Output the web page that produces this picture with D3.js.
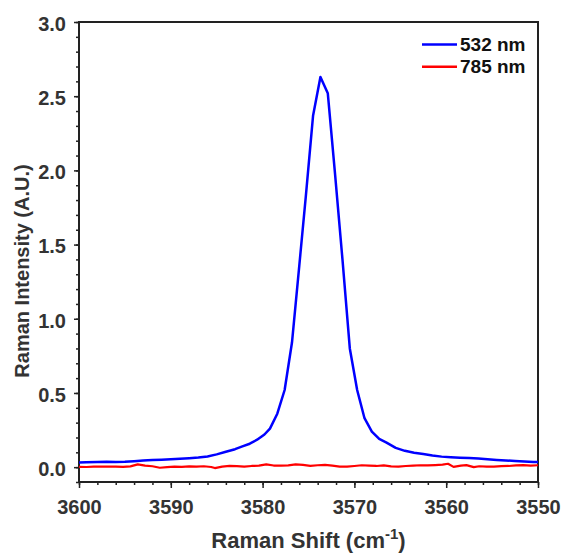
<!DOCTYPE html>
<html>
<head>
<meta charset="utf-8">
<script src="https://cdn.jsdelivr.net/npm/d3@7"></script>
<style>
  html, body { margin: 0; padding: 0; background: #fff; }
  svg { display: block; }
  text { font-family: "Liberation Sans", Arial, sans-serif; font-weight: bold; }
</style>
</head>
<body>
<svg id="chart" width="565" height="554"></svg>
<script>
// ---- data ----
const blueX = [3600, 3599.2, 3598, 3597, 3596, 3595, 3594, 3593, 3592, 3591, 3590, 3589, 3588, 3587, 3586, 3585, 3584, 3583, 3582.2, 3581.4, 3580.6, 3579.8, 3579.2, 3578.4, 3577.6, 3576.8, 3576.0, 3575.3, 3574.5, 3573.7, 3572.9, 3572.1, 3571.3, 3570.5, 3569.7, 3568.9, 3568.1, 3567.3, 3566.5, 3565.5, 3564.5, 3563.5, 3562.5, 3561.5, 3560.5, 3559.5, 3558.5, 3557.5, 3556.5, 3555.5, 3554.5, 3553.5, 3552.5, 3551.5, 3550.5, 3550];
const blueY = [0.031, 0.033, 0.035, 0.036, 0.035, 0.036, 0.040, 0.045, 0.048, 0.050, 0.053, 0.056, 0.060, 0.065, 0.072, 0.086, 0.104, 0.121, 0.140, 0.158, 0.185, 0.220, 0.260, 0.360, 0.520, 0.840, 1.360, 1.820, 2.370, 2.630, 2.520, 1.970, 1.400, 0.800, 0.520, 0.330, 0.240, 0.190, 0.165, 0.130, 0.110, 0.097, 0.088, 0.078, 0.071, 0.067, 0.064, 0.061, 0.058, 0.053, 0.049, 0.045, 0.041, 0.038, 0.035, 0.034];

const redX = [3600.0, 3599.2, 3598.4, 3597.6, 3596.8, 3596.0, 3595.2, 3594.4, 3593.6, 3592.8, 3592.0, 3591.2, 3590.4, 3589.6, 3588.8, 3588.0, 3587.2, 3586.4, 3585.6, 3585.2, 3584.4, 3583.6, 3582.8, 3582.0, 3581.2, 3580.4, 3579.6, 3578.8, 3578.0, 3577.2, 3576.4, 3575.6, 3574.8, 3574.0, 3573.2, 3572.4, 3571.6, 3570.8, 3570.0, 3569.2, 3568.4, 3567.6, 3566.8, 3566.0, 3565.2, 3564.4, 3563.6, 3562.8, 3562.0, 3561.2, 3560.4, 3559.8, 3559.2, 3558.4, 3557.8, 3557.0, 3556.4, 3555.6, 3554.8, 3554.0, 3553.2, 3552.4, 3551.6, 3550.8, 3550.0];
const redY = [0.002, 0.001, 0.003, 0.004, 0.003, 0.004, 0.002, 0.005, 0.019, 0.010, 0.006, -0.004, 0.000, 0.003, 0.002, 0.005, 0.004, 0.006, 0.001, -0.006, 0.004, 0.009, 0.007, 0.004, 0.008, 0.010, 0.019, 0.011, 0.010, 0.012, 0.019, 0.015, 0.009, 0.013, 0.016, 0.010, 0.004, 0.003, 0.008, 0.013, 0.010, 0.008, 0.012, 0.005, 0.003, 0.008, 0.011, 0.013, 0.012, 0.014, 0.017, 0.023, 0.002, 0.010, 0.014, 0.000, 0.006, 0.004, 0.003, 0.007, 0.008, 0.012, 0.014, 0.011, 0.013];

const seriesNames = ["532 nm", "785 nm"];
const seriesColors = ["#0000ff", "#ff0000"];
const xMajorTicks = [3600, 3590, 3580, 3570, 3560, 3550];
const yMajorTicks = [0.0, 0.5, 1.0, 1.5, 2.0, 2.5, 3.0];
const xTitle = "Raman Shift (cm";
const xTitleSup = "-1";
const yTitle = "Raman Intensity (A.U.)";

// ---- layout ----
const L = 79, R = 538, T = 22, B = 482;
const svg = d3.select("#chart");

const x = d3.scaleLinear().domain([3600, 3550]).range([L, R]);
const y = d3.scaleLinear().domain([-0.1, 3.0]).range([B, T]);

const axisColor = "#222";
const labelColor = "#333";

// minor ticks
const xMinor = d3.range(3600, 3549, -2);
const yMinor = d3.range(0, 31).map(d => d / 10).concat([-0.1]);

svg.append("g")
  .attr("transform", `translate(0,${B})`)
  .call(d3.axisBottom(x).tickValues(xMinor).tickSize(3).tickFormat(""))
  .call(g => g.select(".domain").remove())
  .call(g => g.selectAll("line").attr("stroke", axisColor).attr("stroke-width", 1.5));

svg.append("g")
  .attr("transform", `translate(${L},0)`)
  .call(d3.axisLeft(y).tickValues(yMinor).tickSize(3).tickFormat(""))
  .call(g => g.select(".domain").remove())
  .call(g => g.selectAll("line").attr("stroke", axisColor).attr("stroke-width", 1.5));

// major ticks
const xAx = svg.append("g")
  .attr("transform", `translate(0,${B})`)
  .call(d3.axisBottom(x).tickValues(xMajorTicks).tickSize(6).tickPadding(12).tickFormat(d3.format("d")))
  .call(g => g.select(".domain").remove());
xAx.selectAll("line").attr("stroke", axisColor).attr("stroke-width", 1.5);
xAx.selectAll("text").attr("fill", labelColor).attr("font-size", 20).attr("font-family", "Liberation Sans, Arial, sans-serif").attr("font-weight", "bold");

const yAx = svg.append("g")
  .attr("transform", `translate(${L},0)`)
  .call(d3.axisLeft(y).tickValues(yMajorTicks).tickSize(5).tickPadding(8).tickFormat(d3.format(".1f")))
  .call(g => g.select(".domain").remove());
yAx.selectAll("line").attr("stroke", axisColor).attr("stroke-width", 1.5);
yAx.selectAll("text").attr("fill", labelColor).attr("font-size", 20).attr("dy", "0.42em").attr("font-family", "Liberation Sans, Arial, sans-serif").attr("font-weight", "bold");

// frame
svg.append("rect")
  .attr("x", L).attr("y", T).attr("width", R - L).attr("height", B - T)
  .attr("fill", "none").attr("stroke", axisColor).attr("stroke-width", 2);

// lines
const line = d3.line().x(d => x(d[0])).y(d => y(d[1]));
const blueData = blueX.map((v, i) => [v, blueY[i]]);
const redData = redX.map((v, i) => [v, redY[i]]);

svg.append("path").datum(redData)
  .attr("d", line).attr("fill", "none").attr("stroke", seriesColors[1]).attr("stroke-width", 2.2).attr("stroke-linejoin", "round");
svg.append("path").datum(blueData)
  .attr("d", line).attr("fill", "none").attr("stroke", seriesColors[0]).attr("stroke-width", 2.5).attr("stroke-linejoin", "round");

// legend
const leg = svg.append("g");
seriesNames.forEach((name, i) => {
  const ly = 44.5 + i * 22.3;
  leg.append("line").attr("x1", 422).attr("x2", 457).attr("y1", ly).attr("y2", ly)
    .attr("stroke", seriesColors[i]).attr("stroke-width", 2.5);
  leg.append("text").attr("x", 460).attr("y", ly + 6.5)
    .attr("font-size", 19).attr("fill", "#111").text(name);
});

// axis titles
const xt = svg.append("text")
  .attr("x", (L + R) / 2).attr("y", 548)
  .attr("text-anchor", "middle").attr("font-size", 22).attr("fill", labelColor);
xt.append("tspan").text(xTitle);
xt.append("tspan").attr("font-size", 15).attr("dy", -9).text(xTitleSup);
xt.append("tspan").attr("dy", 9).text(")");

svg.append("text")
  .attr("transform", `translate(29,${(T + B) / 2 + 19}) rotate(-90)`)
  .attr("text-anchor", "middle").attr("font-size", 20).attr("fill", labelColor)
  .text(yTitle);
</script>
</body>
</html>
